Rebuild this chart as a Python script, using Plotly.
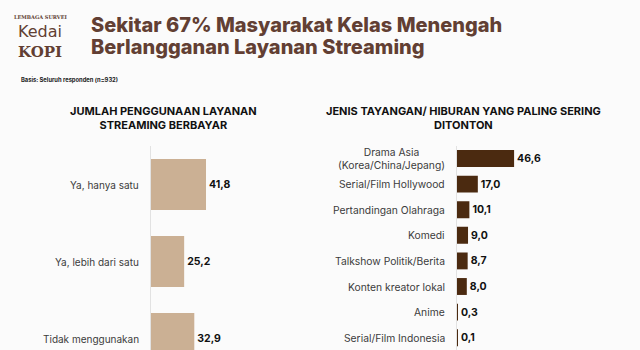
import plotly.graph_objects as go

W, H = 640, 350

# --- Data ---------------------------------------------------------------
usage_labels = ["Ya, hanya satu", "Ya, lebih dari satu", "Tidak menggunakan"]
usage_values = [41.8, 25.2, 32.9]

genre_labels = [
    "Drama Asia<br>(Korea/China/Jepang)",
    "Serial/Film Hollywood",
    "Pertandingan Olahraga",
    "Komedi",
    "Talkshow Politik/Berita",
    "Konten kreator lokal",
    "Anime",
    "Serial/Film Indonesia",
]
genre_values = [46.6, 17.0, 10.1, 9.0, 8.7, 8.0, 0.3, 0.1]

title_lines = ["Sekitar 67% Masyarakat Kelas Menengah",
               "Berlangganan Layanan Streaming"]
basis_text = "Basis: Seluruh responden (n=932)"
left_title = "JUMLAH PENGGUNAAN LAYANAN<br>STREAMING BERBAYAR"
right_title = "JENIS TAYANGAN/ HIBURAN YANG PALING SERING<br>DITONTON"

# --- Styling ------------------------------------------------------------
FONT = "Inter"
BROWN = "#623f33"
TAN = "#cbb094"
DARK = "#4b2a10"
LABEL_GREY = "#3c3c3c"


def fmt(v):
    return f"{v:.1f}".replace(".", ",")


def px_x(p):
    return p / W


def px_y(p):
    return 1 - p / H


fig = go.Figure()

fig.add_trace(go.Bar(
    x=usage_values, y=usage_labels, orientation="h",
    marker=dict(color=TAN, line=dict(width=0)), width=0.66,
    text=[fmt(v) for v in usage_values], textposition="outside",
    textfont=dict(family=FONT, size=10.5, color="#111111", weight=700),
    cliponaxis=False, xaxis="x", yaxis="y", showlegend=False,
))

fig.add_trace(go.Bar(
    x=genre_values, y=genre_labels, orientation="h",
    marker=dict(color=DARK, line=dict(width=0)), width=0.66,
    text=[fmt(v) for v in genre_values], textposition="outside",
    textfont=dict(family=FONT, size=10.5, color="#111111", weight=700),
    cliponaxis=False, xaxis="x2", yaxis="y2", showlegend=False,
))

# Left panel: 1.316 px per unit, bar pitch 77 px
l_left, l_right, l_top = 151, 311, 146
l_pitch = 77
fig.update_layout(
    xaxis=dict(domain=[px_x(l_left), px_x(l_right)],
               range=[0, (l_right - l_left) / 1.316],
               visible=False, fixedrange=True),
    yaxis=dict(domain=[0, px_y(l_top)], anchor="x",
               type="category", categoryorder="array", categoryarray=usage_labels,
               range=[(H - l_top) / l_pitch - 0.5, -0.5],
               showticklabels=False, ticks="", showgrid=False,
               showline=True, linecolor="#e2e2e2", linewidth=1, zeroline=False),
)

# Right panel: 1.225 px per unit, bar pitch 25.6 px
r_left, r_right, r_top = 457, 630, 145.7
r_pitch = 25.6
fig.update_layout(
    xaxis2=dict(domain=[px_x(r_left), px_x(r_right)],
                range=[0, (r_right - r_left) / 1.225],
                visible=False, fixedrange=True),
    yaxis2=dict(domain=[0, px_y(r_top)], anchor="x2",
                type="category", categoryorder="array", categoryarray=genre_labels,
                range=[(H - r_top) / r_pitch - 0.5, -0.5],
                showticklabels=False, ticks="", showgrid=False,
                showline=True, linecolor="#e2e2e2", linewidth=1, zeroline=False),
)

annotations = []

# Category labels, right-aligned against each axis
for lab in usage_labels:
    annotations.append(dict(
        text=lab, x=px_x(l_left - 10), xref="paper", y=lab, yref="y",
        xanchor="right", yanchor="middle", align="right", showarrow=False,
        font=dict(family=FONT, size=10, color=LABEL_GREY)))
for lab in genre_labels:
    annotations.append(dict(
        text=lab, x=px_x(r_left - 10), xref="paper", y=lab, yref="y2",
        xanchor="right", yanchor="middle", align="center", showarrow=False,
        font=dict(family=FONT, size=10.3, color=LABEL_GREY)))

# Panel headings
annotations.append(dict(
    text=left_title, x=px_x(163), y=px_y(118.5), xref="paper", yref="paper",
    xanchor="center", yanchor="middle", align="center", showarrow=False,
    font=dict(family=FONT, size=11, color="#111111", weight=700)))
annotations.append(dict(
    text=right_title, x=px_x(463), y=px_y(118.5), xref="paper", yref="paper",
    xanchor="center", yanchor="middle", align="center", showarrow=False,
    font=dict(family=FONT, size=11, color="#111111", weight=700)))

# Main title, one annotation per line for tight leading
for line, yc in zip(title_lines, [25, 47]):
    annotations.append(dict(
        text=line, x=px_x(89), y=px_y(yc), xref="paper", yref="paper",
        xanchor="left", yanchor="middle", align="left", showarrow=False,
        font=dict(family=FONT, size=20, color=BROWN, weight=800)))

# Basis note
annotations.append(dict(
    text=basis_text, x=px_x(19), y=px_y(80), xref="paper", yref="paper",
    xanchor="left", yanchor="middle", align="left", showarrow=False,
    font=dict(family=FONT, size=5.8, color="#222222", weight=700)))

# Logo wordmark
logo_parts = [
    ("LEMBAGA SURVEI", 17, dict(family="DejaVu Serif", size=5, weight=700)),
    ("Kedai", 32, dict(family="DejaVu Sans", size=16)),
    ("KOPI", 52, dict(family="DejaVu Serif", size=15, weight=700)),
]
for txt, yc, f in logo_parts:
    annotations.append(dict(
        text=txt, x=px_x(40), y=px_y(yc), xref="paper", yref="paper",
        xanchor="center", yanchor="middle", showarrow=False,
        font=dict(color=BROWN, **f)))

fig.update_layout(
    width=W, height=H,
    margin=dict(l=0, r=0, t=0, b=0),
    paper_bgcolor="#fbfbfb", plot_bgcolor="rgba(0,0,0,0)",
    annotations=annotations,
    uniformtext=dict(minsize=6),
)

fig.write_html("out.html", config=dict(displayModeBar=False))
